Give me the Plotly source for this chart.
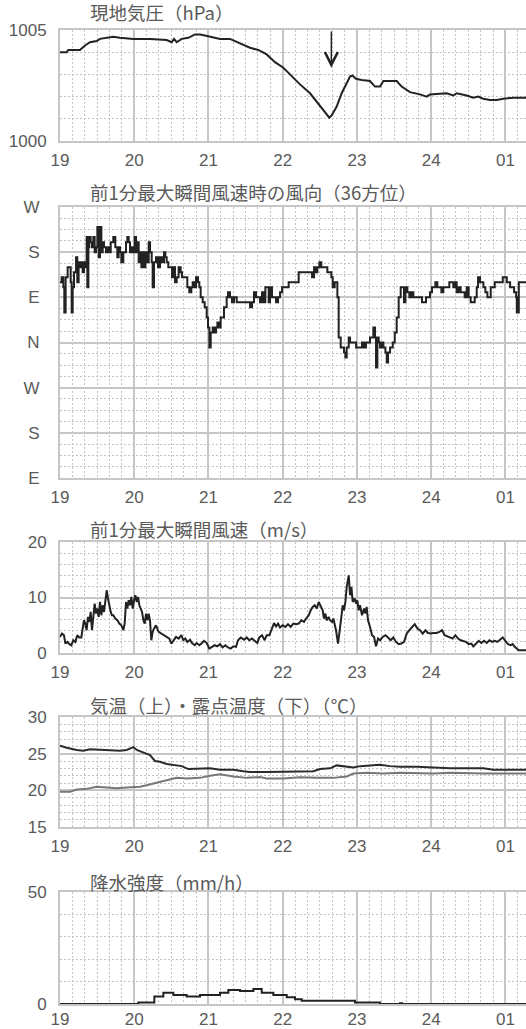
import plotly.graph_objects as go

# ---------------- data (time in hours; 25 = 01 of next day) ----------------
hour_ticks = [19, 20, 21, 22, 23, 24, 25]
hour_labels = ["19", "20", "21", "22", "23", "24", "01"]
t_end = 25.277

# 現地気圧 (hPa)
p_time = [19.000, 19.090, 19.112, 19.269, 19.337, 19.404, 19.494, 19.539, 19.718, 19.808,
          19.988, 20.213, 20.437, 20.504, 20.536, 20.572, 20.639, 20.729, 20.818, 20.886,
          20.953, 21.020, 21.155, 21.290, 21.357, 21.470, 21.559, 21.671, 21.784, 21.896,
          22.008, 22.098, 22.233, 22.368, 22.502, 22.570, 22.628, 22.659, 22.727, 22.794,
          22.862, 22.907, 22.938, 22.987, 23.064, 23.176, 23.243, 23.311, 23.356, 23.535,
          23.602, 23.714, 23.849, 23.939, 23.984, 24.208, 24.298, 24.343, 24.478, 24.568,
          24.635, 24.702, 24.792, 24.882, 24.972, 25.107, 25.277]
p_val = [1004.0, 1004.0, 1004.1, 1004.1, 1004.3, 1004.45, 1004.5, 1004.6, 1004.7, 1004.65,
         1004.6, 1004.6, 1004.55, 1004.45, 1004.6, 1004.45, 1004.6, 1004.65, 1004.8, 1004.8,
         1004.75, 1004.7, 1004.6, 1004.6, 1004.5, 1004.35, 1004.2, 1004.1, 1003.9, 1003.55,
         1003.3, 1003.0, 1002.55, 1002.15, 1001.6, 1001.3, 1001.05, 1001.15, 1001.55, 1002.15,
         1002.6, 1002.9, 1002.95, 1002.8, 1002.75, 1002.7, 1002.45, 1002.45, 1002.7, 1002.7,
         1002.45, 1002.2, 1002.1, 1002.0, 1002.1, 1002.15, 1002.05, 1002.15, 1002.05, 1001.95,
         1002.0, 1001.9, 1001.85, 1001.85, 1001.9, 1001.95, 1001.95]
arrow_time = 22.655
arrow_tip = 1003.3
arrow_tail = 1005.0

# 前1分最大瞬間風速時の風向 (deg, unwrapped: 90=E ... 630=W)
d_time = [19.000, 19.022, 19.045, 19.058, 19.076, 19.103, 19.126, 19.144, 19.157, 19.171,
          19.189, 19.216, 19.233, 19.251, 19.269, 19.287, 19.305, 19.323, 19.341, 19.359,
          19.368, 19.382, 19.395, 19.413, 19.431, 19.449, 19.467, 19.485, 19.503, 19.521,
          19.539, 19.557, 19.575, 19.593, 19.620, 19.638, 19.656, 19.683, 19.718, 19.745,
          19.772, 19.790, 19.808, 19.826, 19.853, 19.889, 19.907, 19.925, 19.943, 19.970,
          19.988, 20.006, 20.024, 20.042, 20.060, 20.078, 20.096, 20.114, 20.132, 20.150,
          20.177, 20.195, 20.213, 20.235, 20.248, 20.266, 20.293, 20.320, 20.347, 20.374,
          20.401, 20.419, 20.437, 20.459, 20.482, 20.509, 20.527, 20.549, 20.572, 20.598,
          20.625, 20.643, 20.670, 20.715, 20.742, 20.769, 20.787, 20.805, 20.832, 20.859,
          20.877, 20.895, 20.922, 20.949, 20.976, 20.994, 21.012, 21.030, 21.057, 21.084,
          21.102, 21.120, 21.146, 21.164, 21.191, 21.209, 21.227, 21.245, 21.263, 21.290,
          21.317, 21.344, 21.380, 21.407, 21.443, 21.470, 21.497, 21.524, 21.560, 21.587,
          21.613, 21.640, 21.667, 21.694, 21.721, 21.739, 21.766, 21.784, 21.811, 21.829,
          21.856, 21.883, 21.910, 21.937, 21.964, 21.991, 22.035, 22.080, 22.125, 22.170,
          22.215, 22.251, 22.287, 22.323, 22.359, 22.395, 22.422, 22.449, 22.467, 22.494,
          22.520, 22.547, 22.574, 22.601, 22.628, 22.655, 22.673, 22.700, 22.727, 22.736,
          22.754, 22.781, 22.799, 22.826, 22.844, 22.862, 22.889, 22.907, 22.934, 22.961,
          22.988, 23.014, 23.041, 23.068, 23.095, 23.122, 23.149, 23.176, 23.203, 23.221,
          23.243, 23.257, 23.275, 23.293, 23.311, 23.338, 23.356, 23.383, 23.401, 23.419,
          23.446, 23.482, 23.509, 23.535, 23.562, 23.589, 23.616, 23.634, 23.652, 23.679,
          23.706, 23.733, 23.760, 23.787, 23.813, 23.849, 23.876, 23.903, 23.930, 23.957,
          23.984, 24.011, 24.029, 24.056, 24.083, 24.110, 24.137, 24.164, 24.191, 24.217,
          24.244, 24.271, 24.298, 24.325, 24.343, 24.370, 24.397, 24.424, 24.451, 24.478,
          24.505, 24.532, 24.559, 24.586, 24.613, 24.631, 24.658, 24.685, 24.703, 24.730,
          24.757, 24.775, 24.802, 24.829, 24.856, 24.883, 24.910, 24.937, 24.964, 24.991,
          25.018, 25.045, 25.063, 25.090, 25.117, 25.144, 25.153, 25.180, 25.277]
d_val = [480, 490, 470, 420, 490, 510, 510, 480, 420, 470,
         500, 530, 480, 520, 510, 520, 500, 520, 510, 570,
         470, 550, 570, 560, 550, 570, 540, 550, 590, 530,
         590, 540, 560, 550, 540, 550, 540, 560, 570, 550,
         530, 550, 540, 520, 540, 560, 570, 560, 540, 550,
         540, 570, 540, 560, 520, 540, 510, 540, 510, 540,
         520, 560, 540, 520, 470, 520, 530, 510, 530, 520,
         540, 530, 520, 510, 510, 490, 510, 480, 490, 510,
         500, 490, 490, 470, 460, 470, 480, 470, 490, 480,
         470, 450, 440, 430, 410, 390, 350, 380, 390, 380,
         390, 400, 390, 410, 410, 430, 430, 450, 460, 450,
         440, 450, 440, 440, 440, 440, 440, 440, 430, 440,
         460, 450, 450, 440, 460, 440, 470, 470, 440, 470,
         450, 450, 440, 450, 460, 470, 470, 480, 480, 480,
         500, 500, 500, 500, 500, 490, 510, 500, 510, 520,
         510, 510, 510, 500, 500, 490, 470, 480, 480, 450,
         370, 350, 350, 340, 330, 350, 370, 360, 360, 360,
         350, 350, 350, 360, 350, 360, 360, 370, 370, 390,
         370, 310, 370, 360, 350, 360, 350, 340, 320, 340,
         350, 360, 380, 410, 450, 470, 470, 440, 470, 460,
         450, 460, 450, 450, 450, 450, 440, 440, 450, 450,
         460, 470, 470, 480, 470, 470, 460, 470, 470, 470,
         480, 480, 470, 480, 460, 470, 460, 460, 450, 470,
         450, 440, 440, 450, 470, 490, 480, 480, 470, 460,
         450, 450, 470, 470, 480, 480, 480, 480, 490, 490,
         480, 480, 470, 470, 460, 450, 420, 480, 480]

# 前1分最大瞬間風速 (m/s)
s_time = [19.000, 19.027, 19.054, 19.072, 19.099, 19.126, 19.153, 19.180, 19.207, 19.233,
          19.260, 19.287, 19.305, 19.323, 19.341, 19.359, 19.377, 19.395, 19.413, 19.431,
          19.449, 19.467, 19.485, 19.503, 19.521, 19.539, 19.557, 19.575, 19.593, 19.611,
          19.629, 19.647, 19.665, 19.683, 19.700, 19.718, 19.745, 19.772, 19.799, 19.826,
          19.853, 19.871, 19.889, 19.907, 19.925, 19.943, 19.961, 19.979, 19.997, 20.015,
          20.033, 20.051, 20.069, 20.087, 20.105, 20.123, 20.141, 20.159, 20.177, 20.194,
          20.212, 20.230, 20.248, 20.266, 20.293, 20.329, 20.365, 20.401, 20.437, 20.473,
          20.500, 20.527, 20.563, 20.599, 20.634, 20.661, 20.688, 20.715, 20.751, 20.778,
          20.814, 20.841, 20.877, 20.913, 20.940, 20.976, 21.012, 21.048, 21.084, 21.119,
          21.155, 21.191, 21.227, 21.263, 21.299, 21.335, 21.371, 21.398, 21.434, 21.479,
          21.515, 21.550, 21.586, 21.622, 21.658, 21.685, 21.721, 21.757, 21.784, 21.820,
          21.856, 21.883, 21.910, 21.937, 21.964, 22.000, 22.035, 22.071, 22.107, 22.143,
          22.179, 22.215, 22.251, 22.287, 22.314, 22.350, 22.377, 22.404, 22.431, 22.458,
          22.485, 22.511, 22.538, 22.556, 22.574, 22.592, 22.619, 22.637, 22.664, 22.682,
          22.700, 22.718, 22.745, 22.763, 22.790, 22.808, 22.826, 22.844, 22.862, 22.889,
          22.907, 22.925, 22.943, 22.969, 22.987, 23.005, 23.023, 23.041, 23.068, 23.095,
          23.113, 23.131, 23.149, 23.176, 23.203, 23.230, 23.257, 23.284, 23.311, 23.347,
          23.383, 23.419, 23.454, 23.490, 23.526, 23.562, 23.598, 23.634, 23.670, 23.706,
          23.742, 23.778, 23.814, 23.850, 23.885, 23.922, 23.957, 23.993, 24.029, 24.074,
          24.110, 24.146, 24.182, 24.218, 24.254, 24.290, 24.326, 24.362, 24.397, 24.433,
          24.469, 24.505, 24.541, 24.568, 24.604, 24.640, 24.676, 24.712, 24.748, 24.784,
          24.820, 24.855, 24.891, 24.927, 24.963, 24.999, 25.035, 25.071, 25.098, 25.125,
          25.152, 25.179, 25.277]
s_val = [2.9, 3.5, 3.2, 1.7, 2.0, 1.6, 1.4, 2.3, 2.0, 3.2,
         2.8, 2.8, 4.4, 5.9, 5.3, 4.1, 6.5, 5.6, 7.4, 4.1,
         6.5, 8.9, 7.1, 8.0, 6.5, 9.2, 6.8, 8.6, 7.4, 10.1,
         11.3, 9.8, 8.3, 7.4, 6.8, 6.8, 6.2, 5.9, 5.3, 5.0,
         4.1, 5.3, 9.2, 8.0, 9.5, 8.6, 10.1, 8.0, 9.5, 10.4,
         9.2, 10.1, 8.6, 8.0, 7.4, 5.9, 5.3, 7.1, 5.9, 7.1,
         5.9, 2.3, 3.8, 4.4, 5.0, 3.8, 3.5, 3.2, 2.9, 2.6,
         1.7, 2.3, 2.9, 2.6, 3.2, 2.3, 2.6, 2.0, 2.4, 1.8,
         1.4, 1.8, 1.4, 1.8, 2.2, 1.8, 0.8, 1.1, 1.4, 1.2,
         1.6, 1.0, 1.4, 1.0, 0.8, 1.2, 1.1, 2.3, 2.8, 2.4,
         2.8, 2.3, 2.6, 2.2, 1.8, 2.8, 3.2, 2.3, 3.2, 3.2,
         4.7, 5.4, 4.8, 5.3, 4.6, 5.0, 4.7, 5.2, 4.7, 5.3,
         5.2, 5.3, 5.9, 5.6, 6.2, 6.8, 7.7, 8.3, 8.6, 8.0,
         9.2, 8.3, 7.7, 6.2, 7.1, 5.9, 6.5, 5.9, 5.6, 6.2,
         5.3, 4.1, 1.7, 4.1, 6.5, 8.6, 7.7, 9.2, 11.9, 14.0,
         10.4, 11.9, 9.2, 9.8, 8.9, 9.5, 7.7, 8.6, 6.8, 8.0,
         7.1, 8.3, 5.9, 4.7, 3.2, 2.9, 1.2, 2.6, 2.3, 2.9,
         3.2, 2.8, 2.3, 2.8, 2.0, 1.6, 1.7, 2.0, 3.5, 4.1,
         4.7, 5.2, 4.4, 4.1, 3.5, 4.1, 3.6, 3.5, 3.6, 3.6,
         3.8, 4.1, 3.2, 3.0, 2.8, 2.6, 3.2, 2.6, 2.3, 2.2,
         2.0, 1.6, 1.7, 1.2, 1.8, 2.2, 1.8, 2.2, 1.8, 2.3,
         2.0, 2.2, 2.0, 2.4, 2.8, 2.2, 1.6, 1.4, 1.6, 1.1,
         0.8, 0.5, 0.5]

# 気温 (上)・露点温度 (下) (℃)
ta_time = [19.000, 19.090, 19.225, 19.314, 19.404, 19.539, 19.674, 19.808, 19.898, 19.988,
           20.033, 20.123, 20.212, 20.280, 20.347, 20.437, 20.572, 20.639, 20.729, 20.886,
           21.021, 21.155, 21.335, 21.470, 21.559, 21.784, 22.008, 22.233, 22.413, 22.502,
           22.637, 22.727, 22.817, 22.952, 23.041, 23.176, 23.311, 23.445, 23.580, 23.805,
           23.984, 24.254, 24.478, 24.703, 24.837, 25.017, 25.179, 25.277]
ta_val = [26.1, 25.8, 25.5, 25.4, 25.6, 25.5, 25.5, 25.4, 25.5, 25.9,
          25.5, 25.2, 24.8, 24.0, 23.9, 23.6, 23.4, 23.3, 22.9, 22.9,
          23.0, 22.8, 22.8, 22.6, 22.5, 22.5, 22.5, 22.5, 22.6, 22.9,
          23.0, 23.4, 23.3, 23.1, 23.3, 23.4, 23.5, 23.3, 23.2, 23.2,
          23.1, 23.0, 23.0, 23.0, 22.8, 22.8, 22.8, 22.8]
td_time = [19.000, 19.135, 19.225, 19.359, 19.494, 19.629, 19.763, 19.898, 19.988, 20.078,
           20.167, 20.257, 20.347, 20.437, 20.572, 20.706, 20.886, 21.021, 21.155, 21.335,
           21.515, 21.694, 21.784, 22.008, 22.143, 22.233, 22.458, 22.682, 22.862, 22.952,
           23.131, 23.356, 23.580, 23.805, 24.029, 24.254, 24.478, 24.703, 24.927, 25.277]
td_val = [19.8, 19.8, 20.1, 20.2, 20.5, 20.4, 20.3, 20.4, 20.4, 20.5,
          20.7, 20.9, 21.1, 21.3, 21.7, 21.6, 21.7, 22.0, 22.2, 21.9,
          21.7, 21.8, 21.6, 21.6, 21.7, 21.8, 21.7, 21.7, 21.9, 22.3,
          22.4, 22.3, 22.4, 22.3, 22.3, 22.4, 22.3, 22.3, 22.3, 22.3]

# 降水強度 (mm/h)
r_time = [19.000, 20.055, 20.271, 20.392, 20.527, 20.706, 20.886, 21.155, 21.268, 21.425,
          21.605, 21.717, 21.874, 22.054, 22.166, 22.256, 22.974, 23.311, 23.580, 23.607, 25.277]
r_val = [0.0, 0.7, 3.3, 5.0, 4.0, 3.3, 4.0, 5.0, 6.2, 5.8,
         6.7, 5.0, 4.0, 3.0, 2.1, 1.5, 0.7, 0.0, 0.3, 0.0, 0.0]

titles = ["現地気圧（hPa）", "前1分最大瞬間風速時の風向（36方位）", "前1分最大瞬間風速（m/s）",
          "気温（上）・露点温度（下）（℃）", "降水強度（mm/h）"]
dir_ticks = [90, 180, 270, 360, 450, 540, 630]
dir_labels = ["E", "S", "W", "N", "E", "S", "W"]

# ---------------- layout helpers ----------------
W, H = 526, 1029
panels_px = [(30, 141), (207, 478), (542, 653), (717, 827), (892, 1004)]
title_y_px = [12, 192, 529, 705, 882]
left_px = 60

GRID = "#c6c6c6"
MINOR = "#c2c2c2"
TXT = "#5a5a5a"
tick_font = dict(family="Liberation Sans, Arial, sans-serif", size=17, color=TXT)

fig = go.Figure()
line_dark = dict(color="#222222", width=2)

fig.add_trace(go.Scatter(x=p_time, y=p_val, mode="lines", line=line_dark, xaxis="x", yaxis="y"))
fig.add_trace(go.Scatter(x=d_time, y=d_val, mode="lines", line=dict(color="#222222", width=2, shape="hv"),
                         xaxis="x2", yaxis="y2"))
fig.add_trace(go.Scatter(x=s_time, y=s_val, mode="lines", line=line_dark, xaxis="x3", yaxis="y3"))
fig.add_trace(go.Scatter(x=ta_time, y=ta_val, mode="lines", line=dict(color="#2a2a2a", width=2),
                         xaxis="x4", yaxis="y4"))
fig.add_trace(go.Scatter(x=td_time, y=td_val, mode="lines", line=dict(color="#777777", width=2),
                         xaxis="x4", yaxis="y4"))
fig.add_trace(go.Scatter(x=r_time, y=r_val, mode="lines", line=dict(color="#222222", width=2, shape="hv"),
                         xaxis="x5", yaxis="y5"))

y_specs = [
    dict(range=[1000, 1005], tick0=1000, dtick=5, minor_dtick=1),
    dict(range=[90, 630], tick0=90, dtick=90, minor_dtick=22.5),
    dict(range=[0, 20], tick0=0, dtick=10, minor_dtick=2),
    dict(range=[15, 30], tick0=15, dtick=5, minor_dtick=1),
    dict(range=[0, 50], tick0=0, dtick=50, minor_dtick=10),
]

layout = dict(
    template="none",
    width=W, height=H, margin=dict(l=0, r=0, t=0, b=0, pad=0, autoexpand=False),
    paper_bgcolor="white", plot_bgcolor="white", showlegend=False,
    font=dict(family="Noto Sans CJK JP", color=TXT),
)

hour_alias = {str(v): lab for v, lab in zip(hour_ticks, hour_labels)}
dir_alias = {str(v): lab for v, lab in zip(dir_ticks, dir_labels)}

n_panels = len(panels_px)
for i, ((top, bot), spec) in enumerate(zip(panels_px, y_specs), start=1):
    xs = "" if i == 1 else str(i)
    dom = [1 - bot / H, 1 - top / H]
    layout["xaxis" + xs] = dict(
        domain=[left_px / W, 1], range=[19, t_end], anchor="y" + xs, automargin=False,
        tickmode="linear", tick0=19, dtick=1, labelalias=hour_alias,
        showgrid=True, gridcolor=GRID, gridwidth=2,
        minor=dict(tick0=19, dtick=1 / 6, showgrid=True, gridcolor=MINOR, gridwidth=1, griddash="2px,2px"),
        showline=True, mirror=True, linecolor=GRID, linewidth=2,
        zeroline=False, ticks="", ticklabelstandoff=(-1 if i == n_panels else 3),
        tickfont=tick_font, fixedrange=True,
    )
    ya = dict(
        domain=dom, range=spec["range"], anchor="x" + xs, automargin=False,
        tickmode="linear", tick0=spec["tick0"], dtick=spec["dtick"],
        showgrid=True, gridcolor=GRID, gridwidth=2,
        minor=dict(tick0=spec["tick0"], dtick=spec["minor_dtick"], showgrid=True, gridcolor=MINOR,
                   gridwidth=1, griddash="2px,2px"),
        showline=True, mirror=False, linecolor=GRID, linewidth=2,
        zeroline=False, ticks="", ticklabelstandoff=8, tickfont=tick_font, fixedrange=True,
    )
    if i == 2:
        ya["labelalias"] = dir_alias
        ya["ticklabelstandoff"] = 15
    layout["yaxis" + xs] = ya

annotations = []
for ttl, ty in zip(titles, title_y_px):
    annotations.append(dict(text=ttl, xref="paper", yref="paper", x=88 / W, y=1 - ty / H,
                            xanchor="left", yanchor="middle", showarrow=False,
                            font=dict(family="Noto Sans CJK JP", size=18.5, color=TXT)))
annotations.append(dict(x=arrow_time, y=arrow_tip, ax=arrow_time, ay=arrow_tail,
                        xref="x", yref="y", axref="x", ayref="y", text="",
                        showarrow=True, arrowhead=5, arrowsize=1.7, arrowwidth=1.5,
                        arrowcolor="#222222"))
layout["annotations"] = annotations

fig.update_layout(**layout)
fig.write_html("out.html")
